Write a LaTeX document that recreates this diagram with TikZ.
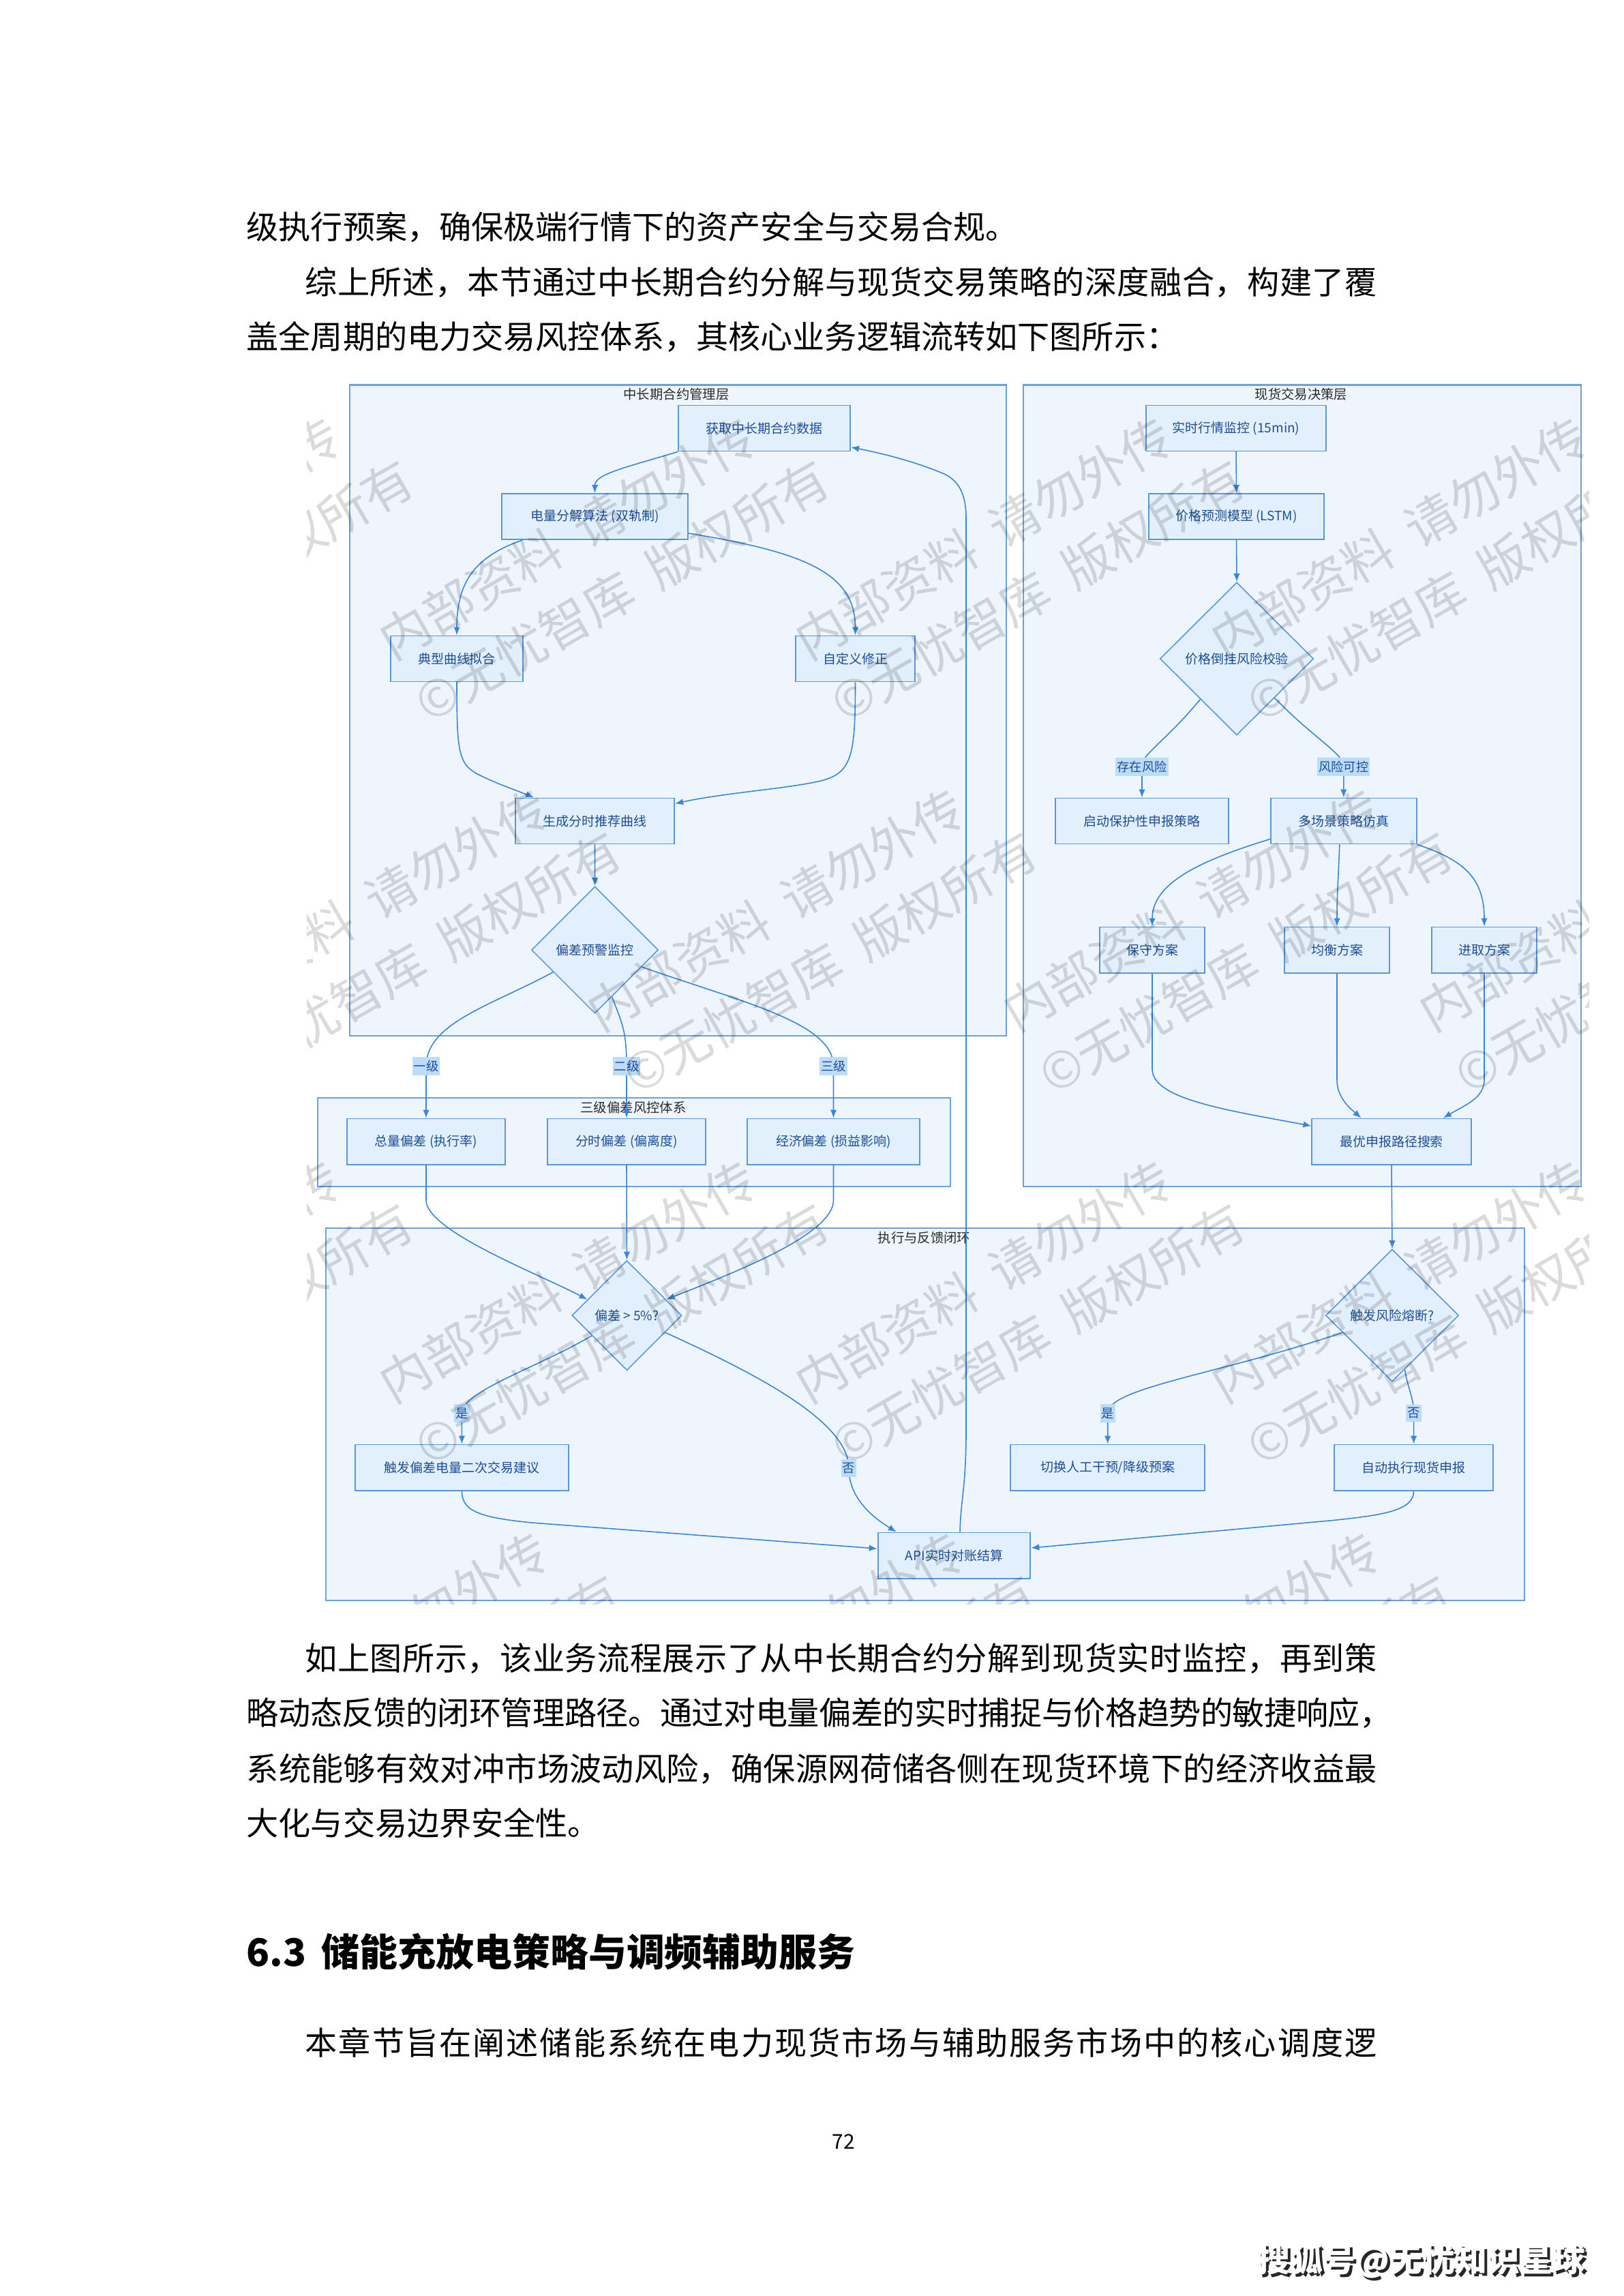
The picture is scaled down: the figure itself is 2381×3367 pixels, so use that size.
\documentclass[tikz,border=0pt]{standalone}
\usepackage{fontspec}
\setmainfont{Noto Sans CJK SC}
\setsansfont{Noto Sans CJK SC}
\usetikzlibrary{shapes.geometric,arrows.meta,calc}
\newcount\cjkcnt
\cjkcnt="4E00
\loop\XeTeXcharclass\cjkcnt=7 \advance\cjkcnt by 1 \ifnum\cjkcnt<"A000 \repeat
\XeTeXcharclass"FF0C=7 \XeTeXcharclass"3002=7 \XeTeXcharclass"FF1A=7 \XeTeXcharclass"3001=7
\XeTeXinterchartoks 7 7 = {\hskip 0pt plus 1fil minus 1fil}
\newcommand\jl[2]{\hbox to #1{\XeTeXinterchartokenstate=1 #2}}
\definecolor{contf}{HTML}{EEF5FD}
\definecolor{contb}{HTML}{6AA2DE}
\definecolor{nodef}{HTML}{E2EFFC}
\definecolor{nodeb}{HTML}{5A96DC}
\definecolor{nodet}{HTML}{1D4E96}
\definecolor{edgec}{HTML}{3A85DC}
\definecolor{lblbg}{HTML}{BCDCFA}
\definecolor{titlec}{HTML}{2A2A2A}
\newcommand\nodefont{\fontsize{5.4pt}{6.4pt}\selectfont}
\newcommand\titlefont{\fontsize{5.5pt}{6.4pt}\selectfont}
\newcommand\lblfont{\fontsize{5.2pt}{6pt}\selectfont}
\newcommand\bodyfont{\fontsize{13.4pt}{16pt}\selectfont}
\newcommand\headfont{\fontsize{15.9pt}{19pt}\selectfont\bfseries}
\newcommand\wmfont{\fontsize{21pt}{22pt}\selectfont}
\newcommand\footfont{\fontsize{13.6pt}{16pt}\selectfont\bfseries}
\tikzset{
  cont/.style={rectangle, draw=contb, fill=contf, line width=0.6pt, inner sep=0pt, anchor=north west},
  ctitle/.style={font=\titlefont, text=titlec, inner sep=0pt},
  box/.style={rectangle, draw=nodeb, fill=nodef, line width=0.55pt, text=nodet, font=\nodefont, minimum height=0.67cm, inner sep=0pt},
  dia/.style={diamond, draw=nodeb, fill=nodef, line width=0.45pt, text=nodet, font=\nodefont, inner sep=0pt},
  conn/.style={draw=edgec, line width=0.45pt, -{Latex[length=0.12cm,width=0.095cm]}},
  lbl/.style={fill=lblbg, text=nodet, font=\lblfont, inner xsep=0.02cm, inner ysep=0.05cm},
  body/.style={font=\bodyfont, inner sep=0pt, anchor=west},
  wm/.style={font=\wmfont, text=black, text opacity=0.14, rotate=30, inner sep=0pt, anchor=west},
}
\begin{document}
\begin{tikzpicture}[x=0.01cm,y=-0.01cm]
\fill[white] (0,0) rectangle (2381,3367);
\useasboundingbox (0,0) rectangle (2381,3367);

% ---------- body text ----------
\node[body] (p1) at (361,333) {级执行预案，确保极端行情下的资产安全与交易合规。};
\node[body] (p2) at (447,414) {\jl{15.71cm}{综上所述，本节通过中长期合约分解与现货交易策略的深度融合，构建了覆}};
\node[body] (p3) at (361,494) {盖全周期的电力交易风控体系，其核心业务逻辑流转如下图所示：};
\node[body] (q1) at (447,2432) {\jl{15.71cm}{如上图所示，该业务流程展示了从中长期合约分解到现货实时监控，再到策}};
\node[body] (q2) at (361,2512) {\jl{16.79cm}{略动态反馈的闭环管理路径。通过对电量偏差的实时捕捉与价格趋势的敏捷响应，}};
\node[body] (q3) at (361,2594) {\jl{16.57cm}{系统能够有效对冲市场波动风险，确保源网荷储各侧在现货环境下的经济收益最}};
\node[body] (q4) at (361,2673) {大化与交易边界安全性。};
\node[body, font=\headfont] (hd) at (361,2862) {6.3\hspace{0.4em}储能充放电策略与调频辅助服务};
\node[body] (s1) at (447,2995) {\jl{15.71cm}{本章节旨在阐述储能系统在电力现货市场与辅助服务市场中的核心调度逻}};
\node[font=\fontsize{8.5pt}{10pt}\selectfont, inner sep=0pt] (pg) at (1237,3141) {72};
\node[font=\footfont, text=black!85, inner sep=0pt] (ft1) at (2089,3320) {搜狐号@无忧知识星球};
\node[font=\footfont, text=white, inner sep=0pt] (ft2) at (2085,3316) {搜狐号@无忧知识星球};

% ---------- containers ----------
\node[cont, minimum width=9.63cm, minimum height=9.542cm] (c1) at (511.5,563.4) {};
\node[cont, minimum width=8.178cm, minimum height=11.751cm] (c3) at (1499.8,563.4) {};
\node[cont, minimum width=9.273cm, minimum height=1.298cm] (c2) at (464.7,1608.7) {};
\node[cont, minimum width=17.568cm, minimum height=5.456cm] (c4) at (476.8,1800) {};
\node[ctitle] (c1t) at (992,578) {中长期合约管理层};
\node[ctitle] (c3t) at (1908.4,578) {现货交易决策层};
\node[ctitle] (c2t) at (929,1624) {三级偏差风控体系};
\node[ctitle] (c4t) at (1355.6,1815) {执行与反馈闭环};

% ---------- nodes: left ----------
\node[box, minimum width=2.52cm] (n1) at (1121,628) {获取中长期合约数据};
\node[box, minimum width=2.72cm] (n2) at (872.5,757.5) {电量分解算法 (双轨制)};
\node[box, minimum width=1.94cm] (n3) at (670,966) {典型曲线拟合};
\node[box, minimum width=1.75cm] (n4) at (1254.5,966) {自定义修正};
\node[box, minimum width=2.33cm] (n5) at (872.5,1204) {生成分时推荐曲线};
\node[dia, minimum width=1.86cm, minimum height=1.86cm] (d1) at (872.6,1393) {偏差预警监控};
\node[box, minimum width=2.32cm] (t1) at (625,1674) {总量偏差 (执行率)};
\node[box, minimum width=2.32cm] (t2) at (919,1674) {分时偏差 (偏离度)};
\node[box, minimum width=2.53cm] (t3) at (1222.5,1674) {经济偏差 (损益影响)};

% ---------- nodes: right ----------
\node[box, minimum width=2.645cm] (r1) at (1813,628) {实时行情监控 (15min)};
\node[box, minimum width=2.57cm] (r2) at (1813.5,757.5) {价格预测模型 (LSTM)};
\node[dia, minimum width=2.25cm, minimum height=2.24cm] (rd) at (1814,966) {价格倒挂风险校验};
\node[box, minimum width=2.53cm] (r3) at (1675,1204) {启动保护性申报策略};
\node[box, minimum width=2.135cm] (r4) at (1970.8,1204) {多场景策略仿真};
\node[box, minimum width=1.54cm] (r5) at (1690,1393) {保守方案};
\node[box, minimum width=1.545cm] (r6) at (1961,1393) {均衡方案};
\node[box, minimum width=1.54cm] (r7) at (2177,1393) {进取方案};
\node[box, minimum width=2.33cm] (r8) at (2041,1674) {最优申报路径搜索};

% ---------- nodes: bottom ----------
\node[dia, minimum width=1.61cm, minimum height=1.61cm] (bd1) at (919.4,1929) {偏差 > 5\%?};
\node[dia, minimum width=1.95cm, minimum height=1.94cm] (bd2) at (2042,1929) {触发风险熔断?};
\node[box, minimum width=3.13cm] (b1) at (677.4,2152) {触发偏差电量二次交易建议};
\node[box, minimum width=2.85cm] (b2) at (1624.7,2152) {切换人工干预/降级预案};
\node[box, minimum width=2.33cm] (b3) at (2073.6,2152) {自动执行现货申报};
\node[box, minimum width=2.235cm] (b4) at (1399.5,2281) {API实时对账结算};

% ---------- connectors: left ----------
\draw[conn] (n1.south west) .. controls (920,685) and (872.5,695) .. (n2.north);
\draw[conn] ([xshift=0.31cm]n2.south west) .. controls (700,815) and (670,850) .. (n3.north);
\draw[conn] ([yshift=0.1cm]n2.south east) .. controls (1180,810) and (1254.5,840) .. (n4.north);
\draw[conn] (n3.south) .. controls (670,1100) and (672,1120) .. (700,1135) .. controls (730,1150) and (755,1158) .. ([xshift=0.28cm]n5.north west);
\draw[conn] (n4.south) .. controls (1254.5,1110) and (1250,1135) .. (1200,1146) .. controls (1150,1157) and (1060,1163) .. ([yshift=-0.09cm]n5.north east);
\draw[conn] (n5.south) -- (d1.north);
\draw[conn] (d1.208) .. controls (720,1475) and (625.5,1500) .. ($(t1.north)+(0,-76)$) node[lbl] (l1) {一级} -- (t1.north);
\draw[conn] (d1.290) .. controls (912,1500) and (919,1510) .. ($(t2.north)+(0,-76)$) node[lbl] (l2) {二级} -- (t2.north);
\draw[conn] (d1.340) .. controls (1090,1470) and (1222.5,1500) .. ($(t3.north)+(0,-76)$) node[lbl] (l3) {三级} -- (t3.north);
\draw[conn] (t1.south) -- (625,1760) .. controls (625,1805) and (790,1868) .. (bd1.158);
\draw[conn] (t2.south) -- (bd1.north);
\draw[conn] (t3.south) -- (1222.5,1760) .. controls (1222.5,1810) and (1080,1865) .. (bd1.22);

% ---------- connectors: right ----------
\draw[conn] (r1.south) -- (r2.north);
\draw[conn] (r2.south) -- (rd.north);
\draw[conn] (rd.228) .. controls (1709,1088) and (1675,1105) .. ($(r3.north)+(0,-45.5)$) node[lbl] (l4) {存在风险} -- (r3.north);
\draw[conn] (rd.314) .. controls (1926,1082) and (1970.8,1105) .. ($(r4.north)+(0,-45.5)$) node[lbl] (l5) {风险可控} -- (r4.north);
\draw[conn] ([yshift=0.08cm]r4.south west) .. controls (1760,1262) and (1690,1295) .. (r5.north);
\draw[conn] ([xshift=-0.06cm]r4.south) .. controls (1963,1290) and (1961,1310) .. (r6.north);
\draw[conn] (r4.south east) .. controls (2150,1262) and (2177,1290) .. (r7.north);
\draw[conn] (r5.south) -- ($(r5.south)+(0,140)$) .. controls (1690,1612) and (1800,1628) .. ([yshift=-0.116cm]r8.north west);
\draw[conn] (r6.south) -- ($(r6.south)+(0,156)$) .. controls (1961,1610) and (1980,1625) .. ([xshift=0.73cm]r8.north west);
\draw[conn] (r7.south) -- ($(r7.south)+(0,156)$) .. controls (2177,1610) and (2150,1620) .. ([xshift=-0.417cm]r8.north east);
\draw[conn] (r8.south) -- (bd2.north);

% ---------- connectors: bottom ----------
\draw[conn] (bd1.210) .. controls (790,2005) and (677.4,2040) .. ($(b1.north)+(0,-45)$) node[lbl] (l6) {是} -- (b1.north);
\draw[conn] (bd1.336) .. controls (1110,2015) and (1245,2085) .. (1245,2153) node[lbl] (l7) {否} .. controls (1245,2200) and (1285,2228) .. ([xshift=0.28cm]b4.north west);
\draw[conn] (bd2.199) .. controls (1790,2015) and (1624.7,2035) .. ($(b2.north)+(0,-45)$) node[lbl] (l8) {是} -- (b2.north);
\draw[conn] (bd2.283) .. controls (2066,2040) and (2073.6,2050) .. ($(b3.north)+(0,-45)$) node[lbl] (l9) {否} -- (b3.north);
\draw[conn] (b1.south) .. controls (677.7,2215) and (700,2225) .. (780,2233) -- ([yshift=0.1cm]b4.west);
\draw[conn] (b3.south) .. controls (2073.6,2215) and (2030,2222) .. (1950,2230) -- ([yshift=0.11cm]b4.east);
\draw[conn] ([xshift=0.085cm]b4.north) .. controls (1409,2200) and (1417,2180) .. (1417,2100) -- (1417,760) .. controls (1417,722) and (1405,705) .. (1385,695) .. controls (1340,676) and (1290,664) .. ([yshift=0.066cm]n1.south east);

% ---------- watermark ----------
\begin{scope}
\clip (450,548) rectangle (2330,2352);
\foreach \r in {1,...,4}{
  \foreach \i in {0,...,3}{
    \pgfmathsetmacro\wx{37+305*mod(\r+1,2)+610*\i}
    \pgfmathsetmacro\wy{475+545*\r}
    \node[wm] (wa\r\i) at (\wx-32,\wy+18) {©无忧智库\hspace{0.45em}版权所有};
    \node[wm] (wb\r\i) at (\wx-85.5,\wy-74.5) {内部资料\hspace{0.45em}请勿外传};
  }
}
\end{scope}
\end{tikzpicture}
\end{document}
